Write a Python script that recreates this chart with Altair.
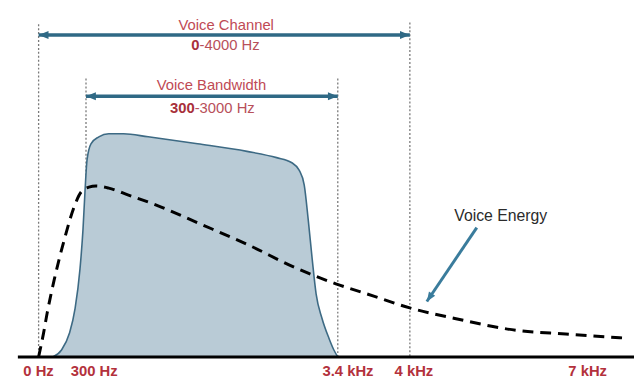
import altair as alt
import pandas as pd

# Voice bandwidth (shaded) curve: frequency in Hz, relative amplitude
band_hz = [90, 145, 195, 231, 262, 281, 294, 312, 361, 458, 580, 762, 1066, 1674,
           2282, 2647, 2829, 2926, 2987, 3036, 3085, 3133, 3206, 3291, 3352, 3400]
band_amp = [0, 2.0, 6.8, 14.0, 25.4, 36.8, 48.1, 56.7, 61.5, 63.5, 64.4, 64.4, 63.5, 61.5,
            59.3, 57.5, 56.1, 53.8, 49.6, 39.6, 28.2, 18.2, 11.1, 5.4, 2.0, 0]

# Voice energy (dashed) curve
energy_hz = [0, 31, 56, 100, 163, 225, 269, 336, 422, 580, 823, 1188, 1674, 2282,
             2890, 3376, 3712, 3992, 4776, 5828, 6690, 7776]
energy_amp = [0, 6.8, 13.1, 22.5, 33.9, 43.3, 47.6, 49.0, 49.3, 48.7, 46.7, 43.6, 38.7, 32.5,
              25.6, 21.1, 17.4, 14.2, 11.1, 7.7, 6.6, 5.4]

tick_hz = [0, 300, 3400, 4000, 7000]
tick_labels = ["0 Hz", "300 Hz", "3.4 kHz", "4 kHz", "7 kHz"]

guide_hz = [0, 4000, 300, 3400]
guide_top = [96.0, 96.5, 80.3, 80.3]

span_start = [0, 300]
span_end = [4000, 3400]
span_amp = [92.9, 75.2]

pointer_from = [5155, 37.3]
pointer_to = [4293, 16.0]

W, H = 634, 351
xs = alt.Scale(domain=[0, 300, 3400, 4000, 7000, 7900],
               range=[31, 79, 334, 407, 583, 634], zero=False, nice=False)
ys = alt.Scale(domain=[0, 100], zero=False, nice=False)

label_expr = ""
for v, t in zip(tick_hz, tick_labels):
    label_expr += f"datum.value == {v} ? '{t}' : "
label_expr += "''"

x_axis = alt.Axis(values=tick_hz, labelExpr=label_expr, domain=False, ticks=False,
                  grid=False, title=None, labelFont="Liberation Sans", labelFontSize=15,
                  labelFontWeight="bold", labelColor="#b3313c", labelAlign="left",
                  labelOffset=-16, labelBaseline="middle", labelPadding=14,
                  labelFlush=False, labelOverlap=False)


def X(f="hz"):
    return alt.X(f, type="quantitative", scale=xs, axis=x_axis)


def Y(f="amp"):
    return alt.Y(f, type="quantitative", scale=ys, axis=None)


guides = alt.Chart(pd.DataFrame({"hz": guide_hz, "amp": guide_top, "amp0": [0] * len(guide_hz)})).mark_rule(
    color="#7a7a7a", strokeDash=[2, 2], strokeWidth=1.3
).encode(x=X(), y=Y(), y2="amp0:Q")

area = alt.Chart(pd.DataFrame({"hz": band_hz, "amp": band_amp})).mark_area(
    fill="#b9cbd6", fillOpacity=1, stroke="#3d6a84", strokeWidth=1.6, interpolate="monotone"
).encode(x=X(), y=Y())

energy = alt.Chart(pd.DataFrame({"hz": energy_hz, "amp": energy_amp})).mark_line(
    color="black", strokeWidth=3, strokeDash=[11, 7], interpolate="monotone"
).encode(x=X(), y=Y())

baseline = alt.Chart(pd.DataFrame({"amp": [0]})).mark_rule(color="black", strokeWidth=3).encode(
    x=alt.value(10), x2=alt.value(W), y=Y()
)

ARROW = "#2f6985"
spans = alt.Chart(pd.DataFrame({"hz": span_start, "hz2": span_end, "amp": span_amp})).mark_rule(
    color=ARROW, strokeWidth=3.5
).encode(x=X(), x2="hz2:Q", y=Y())

heads_left = alt.Chart(pd.DataFrame({"hz": span_start, "amp": span_amp})).mark_point(
    shape="M0,0L2,-0.8L2,0.8Z", filled=True, size=100, color=ARROW, opacity=1
).encode(x=X(), y=Y())

heads_right = alt.Chart(pd.DataFrame({"hz": span_end, "amp": span_amp})).mark_point(
    shape="M0,0L-2,-0.8L-2,0.8Z", filled=True, size=100, color=ARROW, opacity=1
).encode(x=X(), y=Y())

POINT = "#3a7c9c"
pointer = alt.Chart(pd.DataFrame({"hz": [pointer_from[0]], "hz2": [pointer_to[0]],
                                  "amp": [pointer_from[1]], "amp2": [pointer_to[1]]})).mark_rule(
    color=POINT, strokeWidth=3
).encode(x=X(), x2="hz2:Q", y=Y(), y2="amp2:Q")

pointer_head = alt.Chart(pd.DataFrame({"hz": [pointer_to[0]], "amp": [pointer_to[1]]})).mark_point(
    shape="M0,0L-2,-0.8L-2,0.8Z", filled=True, size=90, color=POINT, opacity=1, angle=124
).encode(x=X(), y=Y())


def txt(text, hz, amp, **kw):
    style = dict(font="Liberation Sans", fontSize=15, baseline="middle", align="center")
    style.update(kw)
    return alt.Chart(pd.DataFrame({"t": [text], "hz": [hz], "amp": [amp]})).mark_text(**style).encode(
        x=X(), y=Y(), text="t:N"
    )


texts = [
    txt("Voice Channel", 2026, 95.7, color="#c04a55"),
    txt("0", 1698, 90.0, align="right", fontWeight="bold", color="#a8303a"),
    txt("-4000 Hz", 1698, 90.0, align="left", color="#b8505a"),
    txt("Voice Bandwidth", 1844, 78.3, color="#c04a55"),
    txt("300", 1638, 71.8, align="right", fontWeight="bold", color="#a8303a"),
    txt("-3000 Hz", 1638, 71.8, align="left", color="#b8505a"),
    txt("Voice Energy", 5569, 40.5, color="#2b2b2b", fontSize=16),
]

chart = alt.layer(
    guides, area, energy, baseline, spans, heads_left, heads_right, pointer, pointer_head, *texts
).properties(
    width=W, height=H,
    autosize=alt.AutoSizeParams(type="none"),
    padding={"left": 0, "top": 0, "right": 0, "bottom": 20},
).configure_view(stroke=None)

chart.save("out.html", embed_options={"renderer": "svg", "actions": False})
